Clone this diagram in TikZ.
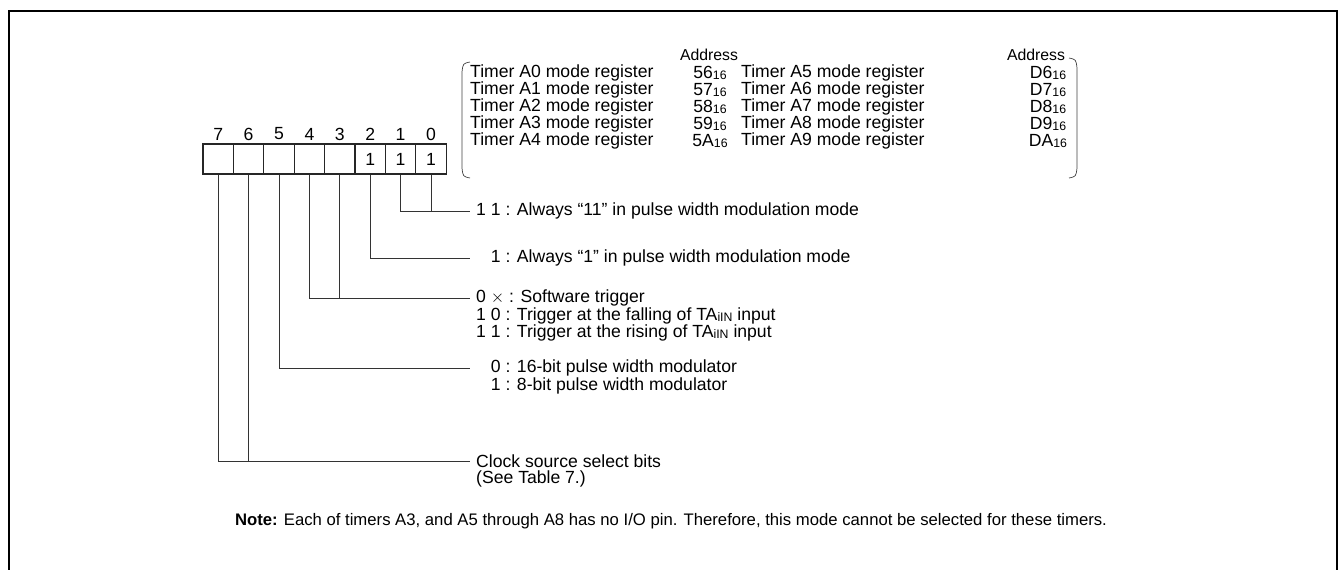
\documentclass[tikz,border=0pt]{standalone}
\usepackage{fontspec}
\setmainfont{Liberation Sans}
\newcommand\subs[1]{\raisebox{-1pt}{\fontsize{12.3}{13}\selectfont #1}}
\begin{document}
\begin{tikzpicture}[x=1pt,y=-1pt,
  txt/.style={inner sep=0pt, anchor=west, font=\fontsize{17.6}{19}\selectfont},
  ctxt/.style={txt, anchor=center},
  hdr/.style={inner sep=0pt, anchor=center, font=\fontsize{15.8}{18}\selectfont},
  cell/.style={draw=black!85, line width=1.1pt, minimum width=30.4pt, minimum height=30pt, inner sep=0pt},
  wire/.style={line width=0.9pt, draw=black!80},
  brace/.style={line width=0.7pt, draw=black!75},
  frame/.style={line width=2pt, draw=black}]
\useasboundingbox (0,0) rectangle (1339,570);
\draw[frame] (9,575) -- (9,11) -- (1337,11) -- (1337,575);
% register cells
\foreach \i in {0,...,7} {
  \node[cell] (b\i) at ({218.2+(7-\i)*30.4},159) {};
  \node[ctxt] (n\i) at ({218.2+(7-\i)*30.4},134) {\i};
}
\foreach \i in {0,1,2} \node[ctxt] (v\i) at (b\i.center) {1};
% table
\node[hdr] (ad1) at (709,55) {Address};
\node[hdr] (ad2) at (1036,55) {Address};
\foreach \r/\a/\b/\c [count=\k from 0] in {A0/56/A5/D6, A1/57/A6/D7, A2/58/A7/D8, A3/59/A8/D9, A4/5A/A9/DA} {
  \node[txt] (tl\k) at (470,{73+17*\k}) {Timer \r{} mode register};
  \node[ctxt] (al\k) at (710,{73+17*\k}) {\a\subs{16}};
  \node[txt] (tr\k) at (741,{73+17*\k}) {Timer \b{} mode register};
  \node[ctxt] (ar\k) at (1048,{73+17*\k}) {\c\subs{16}};
}
\draw[brace] (470,62) .. controls (463,63.5) .. (462,72) -- (462,168) .. controls (463,176.5) .. (470,178);
\draw[brace] (1069,58) .. controls (1076,59.5) .. (1077,68) -- (1077,168) .. controls (1076,176.5) .. (1069,178);
% labels
\node[txt] (t1) at (476,211) {1 1 : Always “11” in pulse width modulation mode};
\node[txt] (t2) at (476,258) {\hphantom{1 }1 : Always “1” in pulse width modulation mode};
\node[txt] (t3) at (476,298) {0 $\times$ : Software trigger};
\node[txt] (t3b) at (476,316) {1 0 : Trigger at the falling of TA\subs{iIN} input};
\node[txt] (t3c) at (476,333) {1 1 : Trigger at the rising of TA\subs{iIN} input};
\node[txt] (t4) at (476,368) {\hphantom{1 }0 : 16-bit pulse width modulator};
\node[txt] (t4b) at (476,386) {\hphantom{1 }1 : 8-bit pulse width modulator};
\node[txt] (t5) at (476,461) {Clock source select bits};
\node[txt] (t5b) at (476,479) {(See Table 7.)};
\node[inner sep=0pt, font=\fontsize{16.7}{18}\selectfont] (note) at (671,521) {\textbf{Note:} Each of timers A3, and A5 through A8 has no I/O pin. Therefore, this mode cannot be selected for these timers.};
% connectors
\coordinate (e1) at (470,211);
\coordinate (e2) at (470,258);
\coordinate (e3) at (470,298);
\coordinate (e4) at (470,368);
\coordinate (e5) at (470,461);
\draw[wire] (b1.south) |- (e1);
\draw[wire] (b0.south) -- (b0.south |- e1);
\draw[wire] (b2.south) |- (e2);
\draw[wire] (b4.south) |- (e3);
\draw[wire] (b3.south) -- (b3.south |- e3);
\draw[wire] (b5.south) |- (e4);
\draw[wire] (b7.south) |- (e5);
\draw[wire] (b6.south) -- (b6.south |- e5);
\end{tikzpicture}
\end{document}
